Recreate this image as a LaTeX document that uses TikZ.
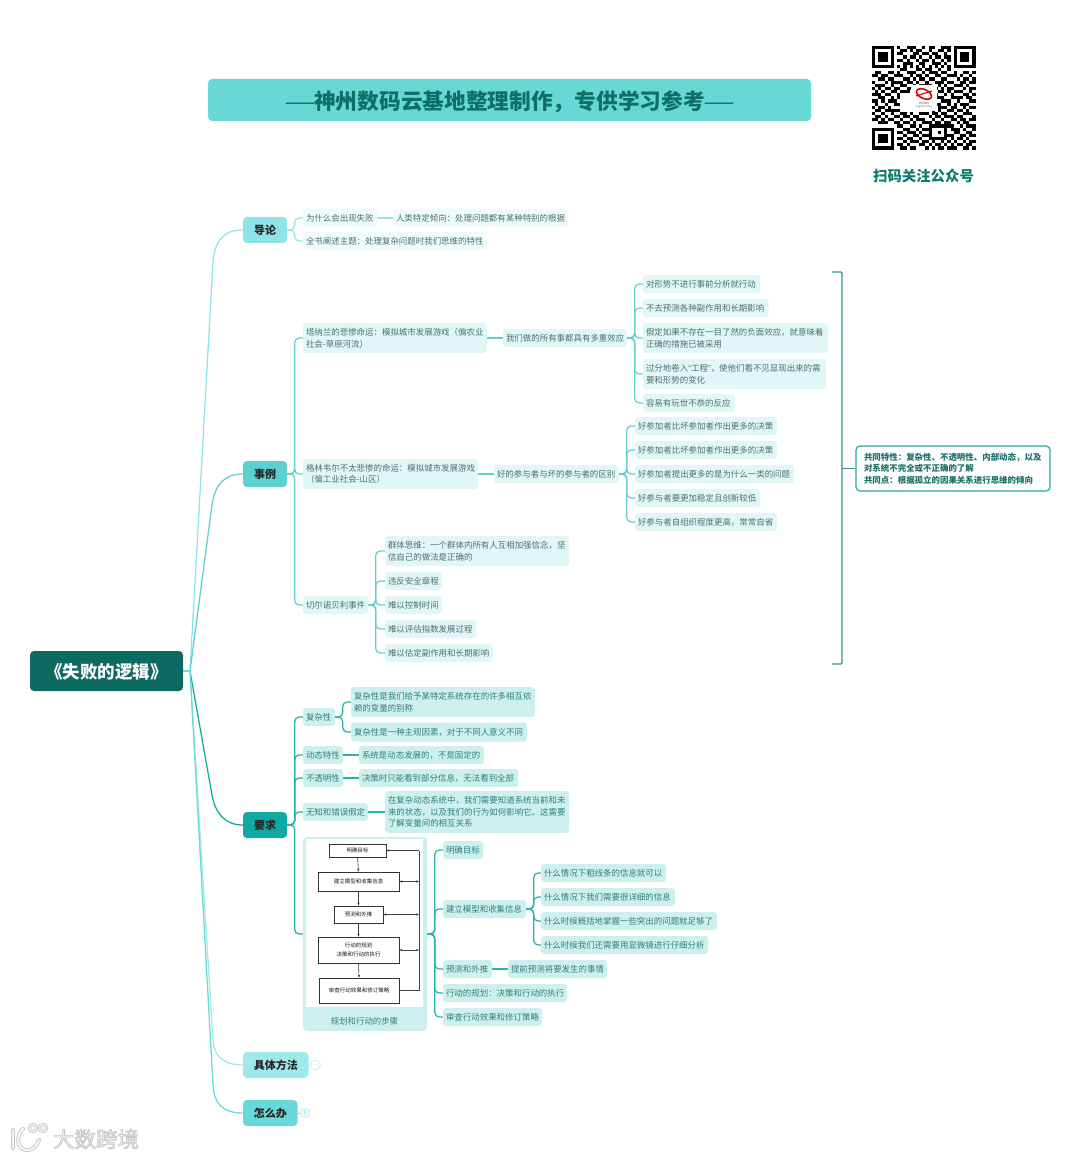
\documentclass[tikz,border=0pt]{standalone}
\usepackage{fontspec}
\setmainfont{Noto Sans CJK SC}
\newfontfamily\dashfont{Liberation Sans}
\usetikzlibrary{arrows.meta}
\definecolor{rootc}{HTML}{0C6A62}
\definecolor{bannerc}{HTML}{66D9D5}
\definecolor{titlec}{HTML}{0F6F67}
\definecolor{aa}{HTML}{8FE3E6}
\definecolor{bb}{HTML}{5CD0CF}
\definecolor{cc}{HTML}{0FABA2}
\definecolor{dd}{HTML}{9FE9ED}
\definecolor{ee}{HTML}{68D9D8}
\definecolor{lineA}{HTML}{9BE3E6}
\definecolor{lineB}{HTML}{62CFCF}
\definecolor{lineC}{HTML}{25B3AA}
\definecolor{leafA}{HTML}{EFFAFB}
\definecolor{leafB}{HTML}{E0F6F7}
\definecolor{leafC}{HTML}{CDF0EE}
\definecolor{txtA}{HTML}{4F6F70}
\definecolor{txtC}{HTML}{2F7F7A}
\definecolor{brk}{HTML}{3C8F8B}
\definecolor{noteb}{HTML}{25A89F}
\definecolor{notet}{HTML}{1A6F68}
\newcount\qrc
\def\qrx{872}
\def\qrm{3.14}
\def\qrstep#1{\ifx#1\relax\else\if#11\fill[black] ({\qrx+\the\qrc*\qrm},{46+\qrr*\qrm}) rectangle ++(\qrm,\qrm);\fi\advance\qrc by 1 \expandafter\qrstep\fi}
\def\qrline#1{\qrc=0 \expandafter\qrstep#1\relax}
\newcommand{\bx}[7]{\pgfmathsetmacro\bw{#3-#2-6}\node[#6,text width=\bw pt,minimum height=#5pt] (#1) at ({(#2+#3)/2},#4) {#7};}
\newcommand{\fan}[3]{\foreach \kid in {#3}{\draw[#2] (#1.east) -- ++(7.5,0) |- (\kid.west);}}
\newcommand{\finder}[2]{\fill[white] ({\qrx+#1*\qrm-\qrm},{46+#2*\qrm-\qrm}) rectangle ++({9*\qrm},{9*\qrm});
\fill[black] ({\qrx+#1*\qrm},{46+#2*\qrm}) rectangle ++({7*\qrm},{7*\qrm});
\fill[white] ({\qrx+#1*\qrm+\qrm},{46+#2*\qrm+\qrm}) rectangle ++({5*\qrm},{5*\qrm});
\fill[black] ({\qrx+#1*\qrm+2*\qrm},{46+#2*\qrm+2*\qrm}) rectangle ++({3*\qrm},{3*\qrm});}
\tikzset{
 x=1pt,y=-1pt,
 box/.style={rounded corners=3pt,inner xsep=3pt,inner ysep=0pt,align=left,font=\fontsize{8.45}{11.6}\selectfont},
 la/.style={box,fill=leafA,text=txtA},
 lb/.style={box,fill=leafB,text=txtA},
 lc/.style={box,fill=leafC,text=txtC},
 topic/.style={rounded corners=4pt,inner xsep=3pt,inner ysep=0pt,minimum height=26pt,text=black!85,font=\fontsize{11}{13}\selectfont\bfseries},
 wireA/.style={draw=lineA,line width=1.25pt,rounded corners=4.5pt},
 wireB/.style={draw=lineB,line width=1.25pt,rounded corners=4.5pt},
 wireC/.style={draw=lineC,line width=1.25pt,rounded corners=4.5pt},
 flow/.style={draw=black!80,line width=0.7pt,fill=white,inner sep=0pt,text=black!90,align=center,font=\fontsize{5.5}{9.5}\selectfont},
 farrow/.style={draw=black!75,line width=0.6pt,-{Stealth[length=3pt,width=2.4pt]}},
 fboth/.style={draw=black!75,line width=0.6pt,{Stealth[length=3pt,width=2.4pt]}-{Stealth[length=3pt,width=2.4pt]}},
 fold/.style={circle,inner sep=0pt,minimum size=10pt,line width=0.8pt,fill=white},
 wm/.style={draw=black!22,line cap=round},
 wmin/.style={draw=white!96!black,line cap=round},
}
\begin{document}
\begin{tikzpicture}
\useasboundingbox (0,0) rectangle (1080,1158);
% banner
\node[fill=bannerc,rounded corners=4pt,minimum width=603pt,minimum height=42pt,inner sep=0pt,text height=18.4pt,text depth=0pt,text=titlec,font=\fontsize{21.7}{24}\selectfont\bfseries] (banner) at (509.5,100) {{\dashfont\fontsize{14.2}{24}\selectfont\raisebox{1.5pt}{——}}神州数码云基地整理制作，专供学习参考{\dashfont\fontsize{14.2}{24}\selectfont\raisebox{1.5pt}{——}}};
% QR code
\foreach \qrr/\qrs in {
0/011100101001110010110011100010110,
1/110010010110101100100110101101001,
2/001011101100011011011001010011101,
3/101100110010110100101101100100110,
4/010111001101001011010010111011001,
5/110001010011100110011101001100111,
6/001010101010101010101010101010100,
7/100111010110001101100100110110011,
8/011001101001110010111011001001101,
9/110110011100101101001100111010010,
10/001101100011010110110011000101101,
11/100010111101101001001110110011011,
12/011100100110010111100101001110100,
13/101011011001101000111010110001011,
14/010100110111010011000110101110010,
15/111011001000000000011001010001101,
16/001100101000000000001110011110110,
17/110101110000000000010011100100011,
18/010010011000000000011100101011100,
19/101101000000000000000111011001011,
20/011011111000000000010100110110100,
21/100100100110100111011011001001110,
22/011010011011011000101101110110001,
23/110101100100101110010010011011011,
24/001110011011010011101101100101100,
25/101001101100110100111111110010111,
26/010110010011001011100001011101001,
27/110011101101110100100101001100110,
28/001100010010011011100001110011011,
29/101011101101100100111111010110100,
30/010101010010111011010010101001011,
31/111010101101000110101101010110110,
32/100101110110110001010110111001101}{\qrline\qrs}
\finder{0}{0}\finder{26}{0}\finder{0}{26}
\node[fill=white,rounded corners=3pt,minimum width=26pt,minimum height=26pt,inner sep=0pt] (logo) at (924,98) {};
\draw[red!80!black,line width=1.5pt,rotate around={-25:(924,94)}] (924,94) ellipse (8pt and 4.5pt);
\draw[red!80!black,line width=1.1pt] (916,96) -- (932,91);
\node[inner sep=0pt,text=black!60,align=center,font=\fontsize{2.6}{3}\selectfont] (logot) at (924,105) {神州数码\\Digital China};
\node[inner sep=0pt,text=titlec!85!cc,font=\fontsize{14.4}{16}\selectfont\bfseries] (qrcap) at (923.5,175.5) {扫码关注公众号};
% root and topics
\node[fill=rootc,rounded corners=4pt,minimum width=153pt,minimum height=40pt,inner sep=0pt,text height=15.2pt,text depth=0pt,text=white,font=\fontsize{17.5}{20}\selectfont\bfseries] (root) at (106.5,671) {《失败的逻辑》};
\bx{t1}{243}{287}{230}{26}{topic,fill=aa,align=center}{导论}
\bx{t2}{243}{287}{474}{26}{topic,fill=bb,align=center}{事例}
\bx{t3}{243}{287}{825}{26}{topic,fill=cc,align=center}{要求}
\bx{t4}{243}{308.5}{1065}{26}{topic,fill=dd,align=center}{具体方法}
\bx{t5}{243}{297.5}{1113}{26}{topic,fill=ee,align=center}{怎么办}
\coordinate (hub) at (190,671);
\draw[draw=aa,line width=1.25pt] (root.east) -- (hub) -- (213,262) .. controls (215,240) and (224,230) .. (t1.west);
\draw[draw=bb,line width=1.25pt] (root.east) -- (hub) -- (212,505) .. controls (215,485) and (224,474) .. (t2.west);
\draw[draw=cc,line width=1.25pt] (root.east) -- (hub) -- (212,795) .. controls (215,812) and (224,825) .. (t3.west);
\draw[draw=dd,line width=1.25pt] (root.east) -- (hub) -- (213,1040) .. controls (214,1055) and (222,1065) .. (t4.west);
\draw[draw=ee,line width=1.25pt] (root.east) -- (hub) -- (213,1085) .. controls (214,1103) and (222,1113) .. (t5.west);
% intro
\bx{a1}{303}{377}{218}{18}{la}{为什么会出现失败}
\bx{a2}{393}{568}{218}{18}{la}{人类特定倾向：处理问题都有某种特别的根据}
\bx{a3}{303}{487}{241}{18}{la}{全书阐述主题：处理复杂问题时我们思维的特性}
\fan{t1}{wireA}{a1,a3}
\draw[wireA] (a1.east) -- (a2.west);
% cases
\bx{b1}{303}{487}{338}{30}{lb}{塔纳兰的悲惨命运：模拟城市发展游戏（偏农业\\社会-草原河流）}
\bx{b2}{303}{478}{474}{30}{lb}{格林韦尔不太悲惨的命运：模拟城市发展游戏\\（偏工业社会-山区）}
\bx{b3}{303}{368}{605}{18}{lb}{切尔诺贝利事件}
\fan{t2}{wireB}{b1,b2,b3}
\bx{b1a}{503}{627}{338}{18}{lb}{我们做的所有事都具有多重效应}
\draw[wireB] (b1.east) -- (b1a.west);
\bx{c1}{643}{760}{284}{18}{lb}{对形势不进行事前分析就行动}
\bx{c2}{643}{768.5}{308}{18}{lb}{不去预测各种副作用和长期影响}
\bx{c3}{643}{828}{338}{30}{lb}{假定如果不存在一目了然的负面效应，就意味着\\正确的措施已被采用}
\bx{c4}{643}{826}{374}{30}{lb}{过分地卷入{\dashfont “}工程{\dashfont ”}，使他们看不见显现出来的需\\要和形势的变化}
\bx{c5}{643}{735}{403}{18}{lb}{容易有玩世不恭的反应}
\fan{b1a}{wireB}{c1,c2,c3,c4,c5}
\bx{b2a}{494}{619}{474}{18}{lb}{好的参与者与坏的参与者的区别}
\draw[wireB] (b2.east) -- (b2a.west);
\bx{d1}{635}{777}{426}{18}{lb}{好参加者比坏参加者作出更多的决策}
\bx{d2}{635}{777}{450}{18}{lb}{好参加者比坏参加者作出更多的决策}
\bx{d3}{635}{794}{474}{18}{lb}{好参加者提出更多的是为什么一类的问题}
\bx{d4}{635}{760}{498}{18}{lb}{好参与者要更加稳定且创新较低}
\bx{d5}{635}{777}{522}{18}{lb}{好参与者自组织程度更高，常常自省}
\fan{b2a}{wireB}{d1,d2,d3,d4,d5}
\bx{e1}{385}{569}{551}{30}{lb}{群体思维：一个群体内所有人互相加强信念，坚\\信自己的做法是正确的}
\bx{e2}{385}{442}{581}{18}{lb}{违反安全章程}
\bx{e3}{385}{442}{605}{18}{lb}{难以控制时间}
\bx{e4}{385}{476}{629}{18}{lb}{难以评估指数发展过程}
\bx{e5}{385}{493}{653}{18}{lb}{难以估定副作用和长期影响}
\fan{b3}{wireB}{e1,e2,e3,e4,e5}
% bracket and note
\coordinate (brkT) at (832,272);
\coordinate (brkB) at (832,664);
\draw[brk,line width=1.3pt,rounded corners=1pt] (brkT) -- (842,272) -- (842,664) -- (brkB);
\coordinate (brkM) at (842,468.5);
\node[draw=noteb,line width=1.2pt,fill=white,rounded corners=4pt,minimum width=194pt,minimum height=45pt,inner xsep=8pt,inner ysep=0pt,text width=178pt,align=left,text=notet,font=\fontsize{8.45}{11.4}\selectfont\bfseries] (note) at (953,468.5) {共同特性：复杂性、不透明性、内部动态，以及\\对系统不完全或不正确的了解\\共同点：根据孤立的因果关系进行思维的倾向};
\draw[brk,line width=1.3pt] (brkM) -- (note.west);
% requirements
\bx{f1}{303}{335}{717}{18}{lc}{复杂性}
\bx{f2}{303}{343}{755}{18}{lc}{动态特性}
\bx{f3}{303}{343}{778}{18}{lc}{不透明性}
\bx{f4}{303}{368}{812}{18}{lc}{无知和错误假定}
\node[fill=leafC,rounded corners=4pt,minimum width=124pt,minimum height=194pt,inner sep=0pt] (img) at (365,934) {};
\fan{t3}{wireC}{f1,f2,f3,f4,img}
\bx{f1a}{351}{535}{702}{30}{lc}{复杂性是我们给予某特定系统存在的许多相互依\\赖的变量的别称}
\bx{f1b}{351}{527}{732}{19}{lc}{复杂性是一种主观因素，对于不同人意义不同}
\fan{f1}{wireC}{f1a,f1b}
\bx{f2a}{359}{484}{755}{18}{lc}{系统是动态发展的，不是固定的}
\draw[wireC] (f2.east) -- (f2a.west);
\bx{f3a}{359}{518}{778}{18}{lc}{决策时只能看到部分信息，无法看到全部}
\draw[wireC] (f3.east) -- (f3a.west);
\bx{f4a}{385}{569}{812}{42}{lc}{在复杂动态系统中，我们需要知道系统当前和未\\来的状态，以及我们的行为如何影响它。这需要\\了解变量间的相互关系}
\draw[wireC] (f4.east) -- (f4a.west);
% figure
\node[fill=white,minimum width=117pt,minimum height=168pt,inner sep=0pt] (imgw) at (364.5,923) {};
\node[inner sep=0pt,text=txtC,font=\fontsize{8.4}{10}\selectfont] (imgcap) at (364.5,1021) {规划和行动的步骤};
\node[flow,minimum width=57pt,minimum height=13pt] (s1) at (357.5,850.5) {明确目标};
\node[flow,minimum width=81pt,minimum height=19pt] (s2) at (358.5,881.5) {建立模型和收集信息};
\node[flow,minimum width=49pt,minimum height=17pt] (s3) at (358.5,914.5) {预测和外推};
\node[flow,minimum width=81pt,minimum height=26pt] (s4) at (358.5,950) {行动的规划\\决策和行动的执行};
\node[flow,minimum width=80pt,minimum height=25pt] (s5) at (359,990.5) {审查行动效果和修订策略};
\draw[farrow] (s1.south) -- (s2.north);
\draw[farrow] (s2.south) -- (s3.north);
\draw[farrow] (s3.south) -- (s4.north);
\draw[farrow] (s4.south) -- (s5.north);
\coordinate (busT) at (419,850.5);
\coordinate (busB) at (419,990.5);
\draw[draw=black!75,line width=0.6pt] (s5.east) -- (busB) -- (busT);
\draw[farrow] (busT) -- (s1.east);
\draw[fboth] (s2.east) -- (s2.east -| busT);
\draw[fboth] (s3.east) -- (s3.east -| busT);
\draw[fboth] (s4.east) -- (s4.east -| busT);
% steps
\bx{g1}{443}{483}{850}{18}{lc}{明确目标}
\bx{g2}{443}{526}{909}{18}{lc}{建立模型和收集信息}
\bx{g3}{443}{492}{969}{18}{lc}{预测和外推}
\bx{g4}{443}{567}{993}{18}{lc}{行动的规划：决策和行动的执行}
\bx{g5}{443}{542}{1017}{18}{lc}{审查行动效果和修订策略}
\fan{img}{wireC}{g1,g2,g3,g4,g5}
\bx{h1}{541}{666}{873}{18}{lc}{什么情况下粗线条的信息就可以}
\bx{h2}{541}{675}{897}{18}{lc}{什么情况下我们需要很详细的信息}
\bx{h3}{541}{717}{921}{18}{lc}{什么时候概括地掌握一些突出的问题就足够了}
\bx{h4}{541}{708}{945}{18}{lc}{什么时候我们还需要用显微镜进行仔细分析}
\fan{g2}{wireC}{h1,h2,h3,h4}
\bx{g3a}{508}{607}{969}{18}{lc}{提前预测将要发生的事情}
\draw[wireC] (g3.east) -- (g3a.west);
% folded markers
\node[fold,draw=dd!70!white,text=dd,font=\fontsize{6}{6}\selectfont] (m4) at (315.5,1065) {…};
\draw[draw=dd,line width=0.8pt] (t4.east) -- (m4.west);
\node[fold,draw=dd!80!white,text=bb,minimum size=9pt,font=\fontsize{6}{6}\selectfont] (m5) at (305,1113) {5};
\draw[draw=ee,line width=0.8pt] (t5.east) -- (m5.west);
% watermark
\draw[wm,line width=4pt] (13,1130) -- (13,1148);
\draw[wm,line width=4pt] (23,1129) .. controls (16,1134) and (16,1150) .. (27,1150) .. controls (33,1150) and (37,1146) .. (39,1140);
\draw[wm,line width=3pt] (33,1128) circle (3.6pt);
\draw[wm,line width=3pt] (43,1128) circle (3.6pt);
\draw[wmin,line width=2.2pt] (13,1130) -- (13,1148);
\draw[wmin,line width=2.2pt] (23,1129) .. controls (16,1134) and (16,1150) .. (27,1150) .. controls (33,1150) and (37,1146) .. (39,1140);
\draw[wmin,line width=1.3pt] (33,1128) circle (3.6pt);
\draw[wmin,line width=1.3pt] (43,1128) circle (3.6pt);
\node[inner sep=0pt,font=\fontsize{21.5}{24}\selectfont] (wm) at (96,1139) {\special{pdf:literal 2 Tr 0.8 w 0.78 G 0.97 g}大数跨境\special{pdf:literal 0 Tr 0 G 0 g}};
\end{tikzpicture}
\end{document}
